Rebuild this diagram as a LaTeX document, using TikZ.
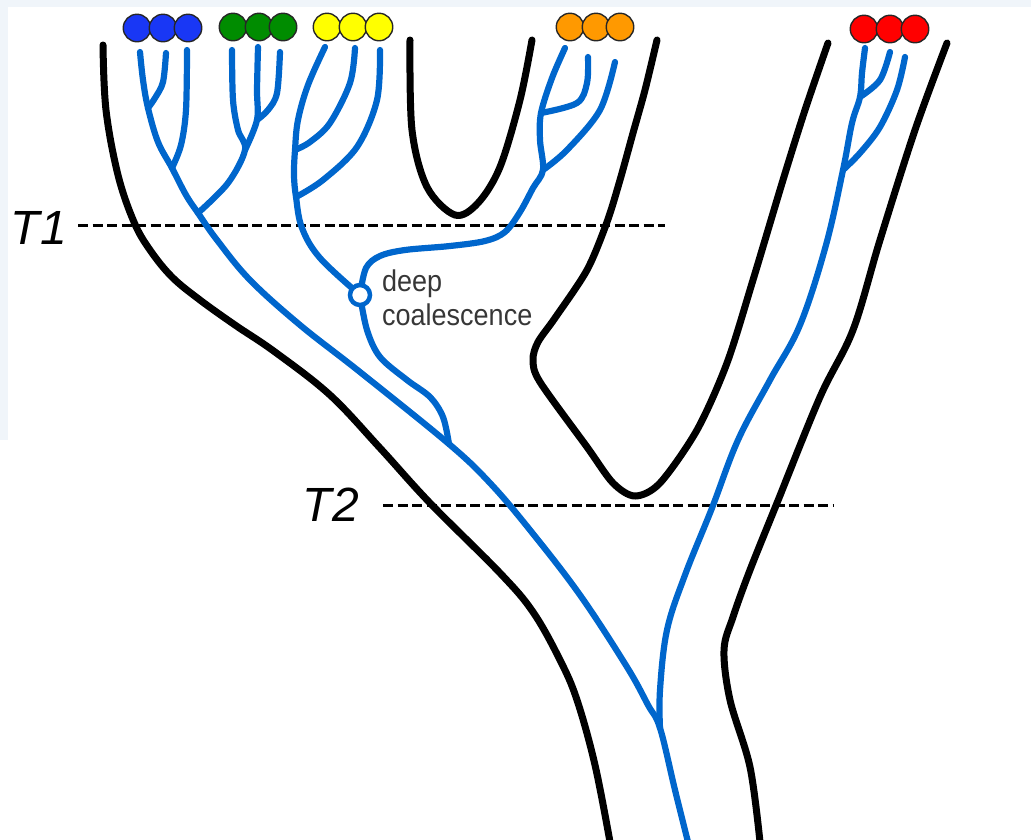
\documentclass[tikz,border=0pt]{standalone}
\usepackage{fontspec}
\setmainfont{Liberation Sans}
\newfontfamily\lblfont[FakeStretch=0.9]{Liberation Sans}
\definecolor{gene}{RGB}{0,102,204}
\definecolor{bgstrip}{RGB}{240,245,250}
\definecolor{ballblue}{RGB}{25,55,245}
\definecolor{ballgreen}{RGB}{0,140,0}
\definecolor{ballyellow}{RGB}{255,255,0}
\definecolor{ballorange}{RGB}{255,153,0}
\definecolor{ballred}{RGB}{255,0,0}
\definecolor{lblgray}{RGB}{55,55,55}
\begin{document}
\begin{tikzpicture}[x=1pt,y=-1pt,
  sp/.style={line width=7pt, line cap=round, line join=round},
  gn/.style={draw=gene, line width=6.2pt, line cap=round, line join=round},
  ball/.style={circle, draw=black!85, line width=1.4pt, minimum size=27.5pt, inner sep=0pt},
  tline/.style={dash pattern=on 10pt off 4.5pt, line width=3pt},
  tlab/.style={font=\fontsize{48}{56}\selectfont\itshape, inner sep=0pt},
  dclab/.style={font=\lblfont\fontsize{30}{34}\selectfont, text=lblgray, inner sep=0pt, anchor=base west},
]
\useasboundingbox (0,0) rectangle (1031,839);
\fill[bgstrip] (0,0) rectangle (1031,7);
\fill[bgstrip] (0,7) rectangle (8,440);

% time lines
\coordinate (t1a) at (78,225);
\coordinate (t1b) at (665,225);
\coordinate (t2a) at (383,505);
\coordinate (t2b) at (834,505);
\draw[tline] (t1a) -- (t1b);
\draw[tline] (t2a) -- (t2b);
\node[tlab] (T1) at (39,228) {T1};
\node[tlab] (T2) at (331,505) {T2};

% species tree
\draw[sp] plot[smooth, tension=0.6] coordinates {(103,45) (106,110) (118,175) (134,222) (150,250) (172,277) (200,300) (235,325) (275,352) (330,395) (380,448) (430,503) (500,573) (533,612) (560,660) (577,700) (595,765) (610,842)};
\draw[sp] plot[smooth, tension=0.55] coordinates {(410,40) (412,130) (427,187) (455,215) (478,203) (500,167) (520,100) (532,40)};
\draw[sp] plot[smooth, tension=0.5] coordinates {(657,40) (645,90) (633,133) (620,180) (607,222) (587,270) (555,318) (538,342) (533,360) (540,382) (587,447) (613,483) (635,496) (660,483) (697,430) (727,363) (753,280) (783,180) (805,110) (828,43)};
\draw[sp] plot[smooth, tension=0.55] coordinates {(947,43) (915,130) (880,240) (853,330) (820,397) (777,503) (750,570) (733,617) (724,650) (730,700) (750,767) (760,842)};

% gene tree junctions
\coordinate (jb1) at (148,108);
\coordinate (jb2) at (172,168);
\coordinate (jbg) at (198,213);
\coordinate (jg1) at (257,120);
\coordinate (jg2) at (245,150);
\coordinate (jy1) at (295,150);
\coordinate (jy2) at (296,197);
\coordinate (dcc) at (360,295);
\coordinate (jo1) at (541,113);
\coordinate (jo2) at (543,170);
\coordinate (jr1) at (860,97);
\coordinate (jr2) at (843,170);
\coordinate (jt) at (449,444);
\coordinate (jm) at (660,728);

% gene tree
\draw[gn] plot[smooth, tension=0.6] coordinates {(140,52) (143,80) (jb1) (158,142) (jb2) (186,195) (jbg) (217,240) (250,280) (300,325) (360,372) (jt) (490,483) (530,530) (580,595) (627,667) (648,705) (jm) (675,790) (688,842)};
\draw[gn] plot[smooth, tension=0.55] coordinates {(166,53) (163,82) (155,98) (jb1)};
\draw[gn] plot[smooth, tension=0.55] coordinates {(187,50) (186,110) (181,145) (jb2)};
\draw[gn] plot[smooth, tension=0.55] coordinates {(232,50) (233,100) (238,130) (jg2) (228,183) (jbg)};
\draw[gn] plot[smooth, tension=0.55] coordinates {(258,47) (257,90) (jg1) (jg2)};
\draw[gn] plot[smooth, tension=0.55] coordinates {(280,52) (277,93) (268,110) (jg1)};
\draw[gn] plot[smooth, tension=0.6] coordinates {(325,47) (308,85) (298,120) (jy1) (294,175) (jy2) (302,228) (320,258) (dcc)};
\draw[gn] plot[smooth, tension=0.55] coordinates {(355,48) (350,83) (330,123) (310,142) (jy1)};
\draw[gn] plot[smooth, tension=0.55] coordinates {(380,50) (377,100) (357,147) (323,180) (jy2)};
\draw[gn] plot[smooth, tension=0.55] coordinates {(dcc) (366,268) (380,256) (405,250) (450,246) (485,241) (505,232) (520,212) (533,188) (jo2) (540,140) (jo1) (552,78) (565,48)};
\draw[gn] plot[smooth, tension=0.55] coordinates {(588,57) (587,83) (577,103) (jo1)};
\draw[gn] plot[smooth, tension=0.55] coordinates {(615,62) (600,110) (567,150) (jo2)};
\draw[gn] plot[smooth, tension=0.55] coordinates {(dcc) (367,330) (380,357) (407,380) (430,397) (443,417) (jt)};
\draw[gn] plot[smooth, tension=0.6] coordinates {(865,48) (862,73) (jr1) (852,123) (jr2) (826,245) (800,325) (770,380) (738,440) (712,508) (685,575) (667,630) (660,690) (jm)};
\draw[gn] plot[smooth, tension=0.55] coordinates {(890,52) (880,80) (jr1)};
\draw[gn] plot[smooth, tension=0.55] coordinates {(905,57) (897,90) (880,127) (860,153) (jr2)};

% deep coalescence
\node[circle, draw=gene, fill=white, line width=4.5pt, minimum size=20pt, inner sep=0pt] (dc) at (dcc) {};
\node[dclab] (deep) at (382,291) {deep};
\node[dclab] (coal) at (382,325) {coalescence};

% individuals
\node[ball, fill=ballblue] (b1) at (137,28) {};
\node[ball, fill=ballblue] (b2) at (163,28) {};
\node[ball, fill=ballblue] (b3) at (188,28) {};
\node[ball, fill=ballgreen] (g1) at (233,27) {};
\node[ball, fill=ballgreen] (g2) at (259,27) {};
\node[ball, fill=ballgreen] (g3) at (283,27) {};
\node[ball, fill=ballyellow] (y1) at (327,27) {};
\node[ball, fill=ballyellow] (y2) at (353,27) {};
\node[ball, fill=ballyellow] (y3) at (379,27) {};
\node[ball, fill=ballorange] (o1) at (570,27) {};
\node[ball, fill=ballorange] (o2) at (596,27) {};
\node[ball, fill=ballorange] (o3) at (620,27) {};
\node[ball, fill=ballred] (r1) at (864,29) {};
\node[ball, fill=ballred] (r2) at (890,29) {};
\node[ball, fill=ballred] (r3) at (915,29) {};
\end{tikzpicture}
\end{document}
